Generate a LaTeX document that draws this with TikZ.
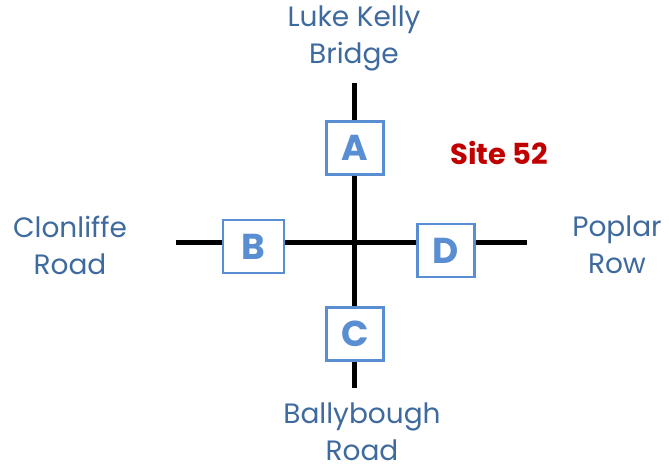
\documentclass[tikz,border=0pt]{standalone}
\usepackage{fontspec}
\setmainfont{Poppins}
\definecolor{boxblue}{HTML}{5A8ED2}
\definecolor{labelblue}{HTML}{3E6A9E}
\definecolor{sitered}{HTML}{C00000}
\tikzset{
  road/.style={line width=5pt, black},
  signal/.style={draw=boxblue, line width=2.5pt, fill=white, text=boxblue, minimum width=57pt, minimum height=53pt, inner sep=0pt, font=\fontsize{36}{36}\selectfont\bfseries},
  roadlabel/.style={text=labelblue, align=center, inner sep=0pt, font=\fontsize{28}{37}\selectfont},
}
\begin{document}
\begin{tikzpicture}[x=1pt,y=-1pt]
\useasboundingbox (0,0) rectangle (669,470);
\coordinate (N) at (354,83);
\coordinate (S) at (354,388);
\coordinate (W) at (176,243);
\coordinate (E) at (527,243);
\draw[road] (N) -- (S);
\draw[road] (W) -- (E);
\node[signal] (A) at (355,148) {A};
\node[signal, minimum width=61pt] (B) at (253.5,246.5) {B};
\node[signal] (C) at (355,334) {C};
\node[signal] (D) at (446,250.5) {D};
\node[roadlabel] (lk) at (354,38) {Luke Kelly\\Bridge};
\node[roadlabel] (cl) at (70,245) {Clonliffe\\Road};
\node[roadlabel] (pr) at (617,245) {Poplar\\Row};
\node[roadlabel] (br) at (362,432) {Ballybough\\Road};
\node[text=sitered, font=\fontsize{29}{29}\selectfont\bfseries] (site) at (499,153) {Site 52};
\end{tikzpicture}
\end{document}
